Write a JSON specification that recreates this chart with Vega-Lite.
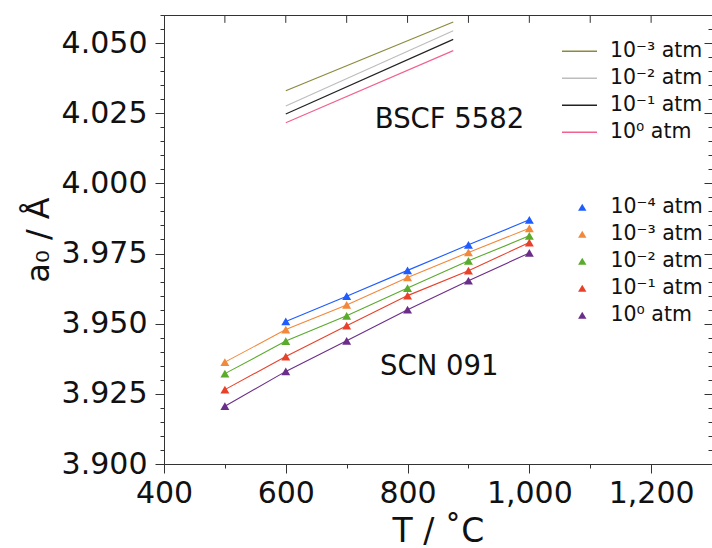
{
  "$schema": "https://vega.github.io/schema/vega-lite/v6.json",
  "width": 548,
  "height": 449,
  "autosize": {"type": "none"},
  "padding": {"left": 164, "top": 15, "right": 0, "bottom": 84},
  "config": {
    "font": "DejaVu Sans",
    "view": {"stroke": "#333333", "strokeWidth": 1},
    "axis": {
      "domainColor": "#333333",
      "tickColor": "#333333",
      "labelColor": "#111111",
      "titleColor": "#111111",
      "labelFont": "DejaVu Sans",
      "titleFont": "DejaVu Sans",
      "titleFontWeight": "normal",
      "grid": false,
      "labelOverlap": false,
      "labelFlush": false,
      "labelBound": false
    },
    "legend": {
      "labelFont": "DejaVu Sans",
      "labelColor": "#111111",
      "padding": 0,
      "offset": 0
    }
  },
  "datasets": {
    "bscf": [
      {"T": 600, "a": 4.0330, "p": "10⁻³ atm"},
      {"T": 875, "a": 4.0575, "p": "10⁻³ atm"},
      {"T": 600, "a": 4.0276, "p": "10⁻² atm"},
      {"T": 875, "a": 4.0544, "p": "10⁻² atm"},
      {"T": 600, "a": 4.0247, "p": "10⁻¹ atm"},
      {"T": 875, "a": 4.0513, "p": "10⁻¹ atm"},
      {"T": 600, "a": 4.0216, "p": "10⁰ atm"},
      {"T": 875, "a": 4.0473, "p": "10⁰ atm"}
    ],
    "scn": [
      {"T": 600, "a": 3.9508, "p": "10⁻⁴ atm"},
      {"T": 700, "a": 3.9598, "p": "10⁻⁴ atm"},
      {"T": 800, "a": 3.9690, "p": "10⁻⁴ atm"},
      {"T": 900, "a": 3.9781, "p": "10⁻⁴ atm"},
      {"T": 1000, "a": 3.9870, "p": "10⁻⁴ atm"},
      {"T": 500, "a": 3.9363, "p": "10⁻³ atm"},
      {"T": 600, "a": 3.9479, "p": "10⁻³ atm"},
      {"T": 700, "a": 3.9567, "p": "10⁻³ atm"},
      {"T": 800, "a": 3.9665, "p": "10⁻³ atm"},
      {"T": 900, "a": 3.9754, "p": "10⁻³ atm"},
      {"T": 1000, "a": 3.9840, "p": "10⁻³ atm"},
      {"T": 500, "a": 3.9322, "p": "10⁻² atm"},
      {"T": 600, "a": 3.9438, "p": "10⁻² atm"},
      {"T": 700, "a": 3.9528, "p": "10⁻² atm"},
      {"T": 800, "a": 3.9627, "p": "10⁻² atm"},
      {"T": 900, "a": 3.9724, "p": "10⁻² atm"},
      {"T": 1000, "a": 3.9813, "p": "10⁻² atm"},
      {"T": 500, "a": 3.9265, "p": "10⁻¹ atm"},
      {"T": 600, "a": 3.9383, "p": "10⁻¹ atm"},
      {"T": 700, "a": 3.9493, "p": "10⁻¹ atm"},
      {"T": 800, "a": 3.9600, "p": "10⁻¹ atm"},
      {"T": 900, "a": 3.9689, "p": "10⁻¹ atm"},
      {"T": 1000, "a": 3.9789, "p": "10⁻¹ atm"},
      {"T": 500, "a": 3.9206, "p": "10⁰ atm"},
      {"T": 600, "a": 3.9330, "p": "10⁰ atm"},
      {"T": 700, "a": 3.9439, "p": "10⁰ atm"},
      {"T": 800, "a": 3.9550, "p": "10⁰ atm"},
      {"T": 900, "a": 3.9653, "p": "10⁰ atm"},
      {"T": 1000, "a": 3.9752, "p": "10⁰ atm"}
    ],
    "notes": [
      {"T": 869, "a": 4.0226, "t": "BSCF 5582"},
      {"T": 852, "a": 3.9346, "t": "SCN 091"}
    ],
    "topticks": [
      {"T": 500}, {"T": 600}, {"T": 700}, {"T": 800}, {"T": 900},
      {"T": 1000}, {"T": 1100}, {"T": 1200}
    ]
  },
  "layer": [
    {
      "data": {"name": "bscf"},
      "mark": {"type": "line", "strokeWidth": 1.2},
      "encoding": {
        "x": {
          "field": "T", "type": "quantitative",
          "scale": {"domain": [400, 1300], "nice": false, "zero": false},
          "axis": {
            "orient": "bottom",
            "title": "T / ˚C",
            "titleFontSize": 33,
            "titlePadding": 7,
            "labelFontSize": 30,
            "labelPadding": 5,
            "values": [400, 500, 600, 700, 800, 900, 1000, 1100, 1200, 1300],
            "labelExpr": "datum.value % 200 === 0 ? format(datum.value, ',') : ''",
            "tickSize": {"condition": {"test": "datum.value % 200 === 0", "value": 9}, "value": 4}
          }
        },
        "y": {
          "field": "a", "type": "quantitative",
          "scale": {"domain": [3.9, 4.06], "nice": false, "zero": false},
          "axis": {
            "orient": "left",
            "title": "a₀ / Å",
            "titleFontSize": 32,
            "titlePadding": 6,
            "labelFontSize": 30,
            "labelPadding": 8,
            "values": [3.9, 3.905, 3.91, 3.915, 3.92, 3.925, 3.93, 3.935, 3.94, 3.945, 3.95, 3.955, 3.96, 3.965, 3.97, 3.975, 3.98, 3.985, 3.99, 3.995, 4.0, 4.005, 4.01, 4.015, 4.02, 4.025, 4.03, 4.035, 4.04, 4.045, 4.05, 4.055, 4.06],
            "labelExpr": "abs(round(datum.value * 1000)) % 25 === 0 ? format(datum.value, '.3f') : ''",
            "tickSize": {"condition": {"test": "abs(round(datum.value * 1000)) % 25 === 0", "value": 9}, "value": 4}
          }
        },
        "color": {
          "field": "p", "type": "nominal",
          "scale": {
            "domain": ["10⁻³ atm", "10⁻² atm", "10⁻¹ atm", "10⁰ atm"],
            "range": ["#8c8a3c", "#bdbdbd", "#222222", "#f2628e"]
          },
          "legend": {
            "title": null,
            "orient": "none",
            "legendX": 397,
            "legendY": 23,
            "symbolType": "stroke",
            "symbolSize": 1225,
            "symbolStrokeWidth": 1.5,
            "labelFontSize": 20.5,
            "labelOffset": 12,
            "clipHeight": 26.5,
            "rowPadding": 0
          }
        }
      }
    },
    {
      "data": {"name": "scn"},
      "mark": {"type": "line", "strokeWidth": 1.1},
      "encoding": {
        "x": {"field": "T", "type": "quantitative", "axis": null},
        "y": {
          "field": "a", "type": "quantitative",
          "axis": {
            "orient": "right",
            "title": null,
            "labels": false,
            "values": [3.9, 3.905, 3.91, 3.915, 3.92, 3.925, 3.93, 3.935, 3.94, 3.945, 3.95, 3.955, 3.96, 3.965, 3.97, 3.975, 3.98, 3.985, 3.99, 3.995, 4.0, 4.005, 4.01, 4.015, 4.02, 4.025, 4.03, 4.035, 4.04, 4.045, 4.05, 4.055, 4.06],
            "tickSize": {"condition": {"test": "abs(round(datum.value * 1000)) % 25 === 0", "value": -8}, "value": -4}
          }
        },
        "stroke": {
          "field": "p", "type": "nominal",
          "scale": {
            "domain": ["10⁻⁴ atm", "10⁻³ atm", "10⁻² atm", "10⁻¹ atm", "10⁰ atm"],
            "range": ["#1f5cff", "#f2883a", "#5aaa2c", "#e8412a", "#6b2d8a"]
          },
          "legend": {
            "title": null,
            "orient": "none",
            "legendX": 408,
            "legendY": 179,
            "symbolType": "triangle-up",
            "symbolSize": 70,
            "symbolStrokeWidth": 0,
            "labelFontSize": 20.5,
            "labelOffset": 18,
            "clipHeight": 26.5,
            "rowPadding": 0
          }
        }
      }
    },
    {
      "data": {"name": "scn"},
      "mark": {"type": "point", "shape": "triangle-up", "filled": true, "size": 80, "opacity": 1},
      "encoding": {
        "x": {"field": "T", "type": "quantitative", "axis": null},
        "y": {"field": "a", "type": "quantitative", "axis": null},
        "fill": {
          "field": "p", "type": "nominal",
          "scale": {
            "domain": ["10⁻⁴ atm", "10⁻³ atm", "10⁻² atm", "10⁻¹ atm", "10⁰ atm"],
            "range": ["#1f5cff", "#f2883a", "#5aaa2c", "#e8412a", "#6b2d8a"]
          },
          "legend": {
            "title": null,
            "orient": "none",
            "legendX": 408,
            "legendY": 179,
            "symbolType": "triangle-up",
            "symbolSize": 70,
            "symbolStrokeWidth": 0,
            "labelFontSize": 20.5,
            "labelOffset": 18,
            "clipHeight": 26.5,
            "rowPadding": 0
          }
        }
      }
    },
    {
      "data": {"name": "topticks"},
      "mark": {"type": "rule", "color": "#333333", "strokeWidth": 1},
      "encoding": {
        "x": {"field": "T", "type": "quantitative", "axis": null},
        "y": {"datum": 4.06, "type": "quantitative", "axis": null},
        "y2": {"datum": 4.0572}
      }
    },
    {
      "data": {"name": "notes"},
      "mark": {"type": "text", "fontSize": 27.5, "align": "center", "baseline": "middle", "color": "#111111"},
      "encoding": {
        "x": {"field": "T", "type": "quantitative", "axis": null},
        "y": {"field": "a", "type": "quantitative", "axis": null},
        "text": {"field": "t"}
      }
    }
  ],
  "resolve": {"axis": {"x": "independent", "y": "independent"}}
}
